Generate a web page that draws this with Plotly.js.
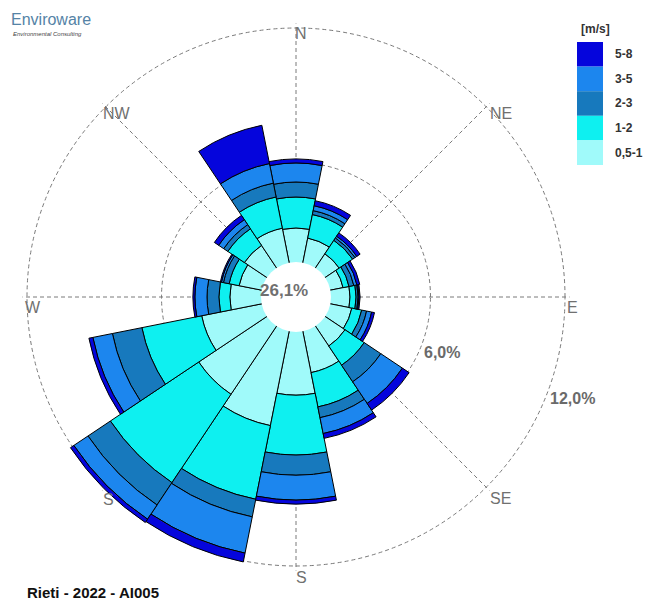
<!DOCTYPE html>
<html>
<head>
<meta charset="utf-8">
<script src="https://cdn.plot.ly/plotly-3.0.1.min.js"></script>
<style>html,body{margin:0;padding:0;background:#fff;}#chart{width:645px;height:600px;}</style>
</head>
<body>
<div id="chart"></div>
<script>
// Directions (sector centres, degrees clockwise from North)
const directions = ['N','NNE','NE','ENE','E','ESE','SE','SSE','S','SSW','SW','WSW','W','WNW','NW','NNW'];
const angles = [0,22.5,45,67.5,90,112.5,135,157.5,180,202.5,225,247.5,270,292.5,315,337.5];

// Speed classes [m/s]
const speedClasses = ['0,5-1','1-2','2-3','3-5','5-8'];
const classColors = ['#a0fafa','#0ef0f0','#1779bd','#1c86ee','#0505dc'];

// Frequencies (%) per class and direction
const freq_05_1 = [3.08,2.68,2.32,2.14,2.41,2.54,2.63,3.44,4.38,5.85,5.22,4.29,2.95,2.59,2.77,3.13];
const freq_1_2  = [1.38,1.07,0.72,0.27,0.27,0.45,1.03,1.56,2.67,3.35,4.74,2.72,0.49,0.45,0.89,1.42];
const freq_2_3  = [0.67,0.18,0.13,0.22,0.09,0.22,0.89,0.49,0.90,0.80,1.20,1.34,0.53,0.26,0.22,0.63];
const freq_3_5  = [0.85,0.22,0.09,0.14,0.04,0.23,1.16,0.72,1.11,1.65,0.76,0.89,0.54,0.09,0.27,0.89];
const freq_5_8  = [0.18,0.23,0.18,0.13,0.05,0.13,0.36,0.22,0.18,0.40,0.18,0.18,0.09,0.05,0.23,1.74];

const calmsLabel = '26,1%';
const ringValues = [6, 12];
const ringLabels = ['6,0%', '12,0%'];
const compassTicks = [0,45,90,135,180,225,270,315];
const compassLabels = ['N','NE','E','SE','S','S','W','NW'];
const titleText = 'Rieti - 2022 - AI005';

const W = 645, H = 600;
const cx = 296, cy = 297;       // centre in px
const pxPer12 = 269;            // radius of 12 % ring in px
const rMax = 12.2;
const R = pxPer12 * rMax / 12;

const px = x => x / W;
const py = y => 1 - y / H;

const series = [freq_05_1, freq_1_2, freq_2_3, freq_3_5, freq_5_8];
const traces = series.map((vals, i) => ({
  type: 'barpolar',
  name: speedClasses[i],
  r: vals,
  theta: angles,
  width: 22.5,
  marker: {color: classColors[i], line: {color: '#000', width: 1}},
  showlegend: false,
  hoverinfo: 'skip'
}));

const annotations = [];
const shapes = [];

// Calm circle
const hole = 35;
shapes.push({type:'circle', xref:'paper', yref:'paper', layer:'above',
  x0: px(cx-hole), x1: px(cx+hole), y0: py(cy+hole), y1: py(cy-hole),
  fillcolor:'#fff', line:{color:'#fff', width:0}});
annotations.push({x: px(284), y: py(290), xref:'paper', yref:'paper', text: calmsLabel,
  showarrow:false, xanchor:'center', yanchor:'middle',
  font:{family:'Liberation Sans, Arial', size:17, color:'#707070', weight:'bold'}});

// Ring labels
annotations.push({x: px(442), y: py(352), xref:'paper', yref:'paper', text: ringLabels[0],
  showarrow:false, xanchor:'center', yanchor:'middle',
  font:{family:'Liberation Sans, Arial', size:16, color:'#6a6a6a', weight:'bold'}});
annotations.push({x: px(572), y: py(398), xref:'paper', yref:'paper', text: ringLabels[1],
  showarrow:false, xanchor:'center', yanchor:'middle',
  font:{family:'Liberation Sans, Arial', size:16, color:'#6a6a6a', weight:'bold'}});

// Compass labels
const compassPos = [[301,34],[501,113],[572,307],[500,498],[301,577],[108,499],[33,307],[117,113]];
compassLabels.forEach((t, i) => {
  annotations.push({x: px(compassPos[i][0]), y: py(compassPos[i][1]), xref:'paper', yref:'paper',
    text: t, showarrow:false, xanchor:'center', yanchor:'middle',
    font:{family:'Liberation Sans, Arial', size:16, color:'#707070'}});
});

// Title
annotations.push({x: px(25), y: py(592), xref:'paper', yref:'paper', text: titleText,
  showarrow:false, xanchor:'left', yanchor:'middle',
  font:{family:'Liberation Sans, Arial', size:15, color:'#111', weight:'bold'}});

// Logo
annotations.push({x: px(9), y: py(20), xref:'paper', yref:'paper', text: 'Enviroware',
  showarrow:false, xanchor:'left', yanchor:'middle',
  font:{family:'Liberation Sans, Arial', size:16, color:'#5583a6'}});
annotations.push({x: px(11), y: py(34), xref:'paper', yref:'paper', text: '<i>Environmental Consulting</i>',
  showarrow:false, xanchor:'left', yanchor:'middle',
  font:{family:'Liberation Sans, Arial', size:6, color:'#444'}});

// Legend
annotations.push({x: px(595), y: py(29), xref:'paper', yref:'paper', text: '[m/s]',
  showarrow:false, xanchor:'center', yanchor:'middle',
  font:{family:'Liberation Sans, Arial', size:12, color:'#333', weight:'bold'}});
const legTop = 42, legH = 24.6;
for (let k = 0; k < 5; k++) {
  const ci = 4 - k;
  const y0 = legTop + k * legH, y1 = y0 + legH;
  shapes.push({type:'rect', xref:'paper', yref:'paper', layer:'above',
    x0: px(577), x1: px(603), y0: py(y1), y1: py(y0),
    fillcolor: classColors[ci], line:{width:0}});
  annotations.push({x: px(613), y: py((y0+y1)/2), xref:'paper', yref:'paper', text: speedClasses[ci],
    showarrow:false, xanchor:'left', yanchor:'middle',
    font:{family:'Liberation Sans, Arial', size:12, color:'#333', weight:'bold'}});
}

const layout = {
  width: W, height: H,
  margin: {l:0, r:0, t:0, b:0},
  paper_bgcolor: '#fff',
  showlegend: false,
  polar: {
    domain: {x: [px(cx - R), px(cx + R)], y: [py(cy + R), py(cy - R)]},
    bgcolor: '#fff',
    barmode: 'stack',
    bargap: 0,
    radialaxis: {range: [0, rMax], tickvals: ringValues, showticklabels: false, ticks: '',
      showline: false, gridcolor: '#7a7a7a', gridwidth: 1, griddash: '4px,3px'},
    angularaxis: {rotation: 90, direction: 'clockwise', tickvals: compassTicks,
      showticklabels: false, ticks: '', showline: false,
      gridcolor: '#7a7a7a', gridwidth: 1, griddash: '4px,3px'}
  },
  annotations: annotations,
  shapes: shapes
};

Plotly.newPlot('chart', traces, layout, {displayModeBar: false, staticPlot: true});
</script>
</body>
</html>
